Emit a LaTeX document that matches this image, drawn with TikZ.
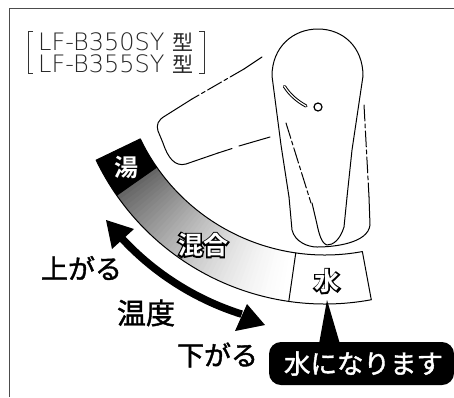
\documentclass[tikz,border=0pt]{standalone}
\usepackage{fontspec}
\setmainfont[FakeBold=1.5]{Noto Sans CJK JP}
\newfontfamily\plainjp{Noto Sans CJK JP}
\newfontfamily\lightlat{DejaVu Sans ExtraLight}
\newfontfamily\boldjp{Noto Sans CJK JP Bold}
\newfontfamily\backjp[FakeBold=14]{Noto Sans CJK JP}
\newcommand{\outlined}[1]{\rlap{\backjp\color{black}#1}{\boldjp\color{white}#1}}
\begin{document}
\begin{tikzpicture}[x=1pt,y=-1pt,
  ln/.style={line width=1pt,line join=round,line cap=round},
  dd/.style={ln,dash pattern=on 16pt off 3pt on 4pt off 3pt},
  lbl/.style={inner sep=0pt,font=\fontsize{27}{27}\selectfont},
  small/.style={inner sep=0pt,font=\fontsize{24}{24}\selectfont,text=black!85,align=left}]
\useasboundingbox (0,0) rectangle (454,397);
\fill[white] (0,0) rectangle (454,397);
\draw[line width=1pt,black!70] (9.5,397) -- (9.5,8.5) -- (454,8.5);
% Model brackets
\draw[line width=.9pt,black!80] (33,31) -- (28,31) -- (28,73) -- (33,73);
\draw[line width=.9pt,black!80] (199,31) -- (204,31) -- (204,73) -- (199,73);
\node[small,anchor=west] (m1) at (38,42) {\lightlat LF-B350SY \fontsize{21}{21}\selectfont\plainjp 型};
\node[small,anchor=west] (m2) at (38,64.5) {\lightlat LF-B355SY \fontsize{21}{21}\selectfont\plainjp 型};
% Band
\coordinate (c) at (325,50);
\foreach \a in {98,...,144}{
  \pgfmathsetmacro{\g}{100-62*((\a-98)/47)^1.6}
  \fill[fill=white!\g!black] (c) ++(\a:205) arc[start angle=\a,end angle=\a+1.3,radius=205]
     -- ++(\a+1.3:49) arc[start angle=\a+1.3,end angle=\a,radius=254] -- cycle;
}
\fill[black] (c) ++(145:205) arc[start angle=145,end angle=154.3,radius=205]
   -- ++(154.3:49) arc[start angle=154.3,end angle=145,radius=254] -- cycle;
\draw[ln] (c) ++(79.5:205) arc[start angle=79.5,end angle=154.3,radius=205]
   -- ++(154.3:49) arc[start angle=154.3,end angle=79.5,radius=254] -- cycle;
\draw[ln] (c) ++(98.2:205) -- ++(98.2:49);
\node[lbl,font=\fontsize{24}{24}\selectfont] (yu) at (126,167) {\outlined{湯}};
\node[lbl,font=\fontsize{25}{25}\selectfont] (kon) at (203,245) {\outlined{混合}};
\node[lbl,font=\fontsize{25}{25}\selectfont] (mz) at (327,281) {\outlined{水}};
% Faucet spout
\draw[ln] (262,57) -- (244,69);
\draw[dd] (244,69) -- (192,99);
\draw[ln] (192,99) -- (165,116) .. controls (158,120) and (156,125) .. (158,131)
  -- (163,143) .. controls (168,158) and (175,167) .. (186,164) -- (218,153);
\draw[dd] (218,153) -- (232,148.5);
\draw[ln] (239,146) -- (270,137);
% Faucet handle
\draw[ln] (289,197) -- (281,145) -- (272,76) .. controls (272,47) and (293,29) .. (318,29)
  .. controls (343,29) and (363,47) .. (363,76) -- (352,150) -- (347,197);
\draw[ln] (289,197) -- (292,230) .. controls (295,242) and (308,247) .. (317,247)
  .. controls (335,247) and (368,243) .. (370,225) -- (369,197);
\draw[ln] (347,197) -- (344,227) .. controls (340,240) and (333,245) .. (327,245)
  .. controls (320,243) and (318,228) .. (316,220) -- (312,203);
\draw[dd] (286,123) -- (311,203);
\draw[dd] (364,105) -- (369,197);
% Slot and pin
\draw[line width=3.2pt,line cap=round,black] (284.5,86.5) .. controls (290,95) and (297,101) .. (306,106);
\draw[line width=1.2pt,line cap=round,white] (284.5,86.5) .. controls (290,95) and (297,101) .. (306,106);
\draw[line width=1.2pt] (318,107) circle[radius=4];
% Double arrow
\draw[line width=7.5pt,black] (c) ++(137:277) arc[start angle=137,end angle=107.5,radius=277];
\fill[black] (106,220) -- (134,229) -- (112,249) -- cycle;
\fill[black] (265,325) -- (247,304) -- (235,331) -- cycle;
% Labels
\node[lbl,anchor=center] (up) at (81.5,268) {上がる};
\node[lbl,anchor=center,font=\fontsize{29}{29}\selectfont] (temp) at (146,313) {温度};
\node[lbl,anchor=center] (down) at (217.5,355) {下がる};
% Callout
\fill[black] (327,300) -- (319,344) -- (340,344) -- cycle;
\node[fill=black,text=white,rounded corners=12pt,minimum width=185pt,minimum height=43pt,inner sep=0pt,
  anchor=center,font=\fontsize{26.5}{26.5}\selectfont] (call) at (361.5,363.5) {\hspace*{4pt}水になります};
\end{tikzpicture}
\end{document}
